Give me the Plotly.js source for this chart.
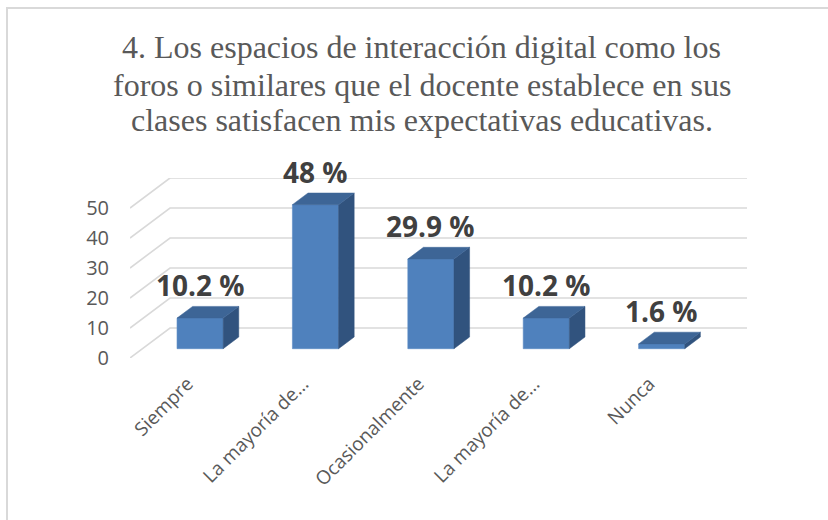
<!DOCTYPE html>
<html>
<head>
<meta charset="utf-8">
<script src="https://cdn.plot.ly/plotly-3.0.1.min.js"></script>
<style>
  html, body { margin: 0; padding: 0; background: #ffffff; }
  #wrap { position: relative; width: 828px; height: 520px; }
  #chart { position: absolute; left: 0; top: 0; width: 828px; height: 520px; }
  #frame { position: absolute; left: 6px; top: 7px; width: 840px; height: 540px;
           border: 2px solid #d9d9d9; pointer-events: none; box-sizing: border-box; }
</style>
</head>
<body>
<div id="wrap">
  <div id="chart"></div>
  <div id="frame"></div>
</div>
<script>
// ---- data ----
const categories = ['Siempre', 'La mayoría de…', 'Ocasionalmente', 'La mayoría de…', 'Nunca'];
const values = [10.2, 48, 29.9, 10.2, 1.6];
const valueLabels = ['10.2 %', '48 %', '29.9 %', '10.2 %', '1.6 %'];
const yTicks = [0, 10, 20, 30, 40, 50];
const titleLines = [
  '4. Los espacios de interacción digital como los',
  'foros o similares que el docente establece en sus',
  'clases satisfacen mis expectativas educativas.'
];

// ---- page geometry ----
const W = 828, H = 520;
const M = { l: 130, r: 81, t: 178, b: 162 };
const toPaperX = px => (px - M.l) / (W - M.l - M.r);
const toPaperY = py => (H - M.b - py) / (H - M.t - M.b);
const TITLE_CENTER_X = 421.5;
const TITLE_MID_Y = [47, 84.5, 120];

// ---- pseudo-3D geometry (in axis units) ----
const DEPTH_X = 0.3466;   // full wall depth, x units
const DEPTH_Y = 10;       // full wall depth, y units
const BAR_FRONT = 0.31;   // bar front plane, fraction of depth
const BAR_DEPTH = 0.39;   // bar depth, fraction of depth
const BAR_W = 0.4;

const FRONT = '#4F81BD', TOP = '#3D6596', SIDE = '#31537E', GRID = '#d9d9d9';
const traces = [];

// gridlines: left wall diagonal + back wall horizontal (drawn below the bars)
const x0 = -0.5, xEnd = categories.length - 0.5 + DEPTH_X;
const shapes = yTicks.map(v => ({
  type: 'path', xref: 'x', yref: 'y', layer: 'below',
  path: `M ${x0},${v} L ${x0 + DEPTH_X},${v + DEPTH_Y} L ${xEnd},${v + DEPTH_Y}`,
  line: { color: GRID, width: 1.6 }
}));

const fx = BAR_FRONT * DEPTH_X, fy = BAR_FRONT * DEPTH_Y;
const dx = BAR_DEPTH * DEPTH_X, dy = BAR_DEPTH * DEPTH_Y;
// front faces
traces.push({
  type: 'bar', showlegend: false, hoverinfo: 'skip',
  x: values.map((v, i) => i + fx), y: values, base: values.map(() => fy),
  width: BAR_W, marker: { color: FRONT, line: { color: '#5b8cc4', width: 0.6 } }
});
values.forEach((v, i) => {
  const l = i + fx - BAR_W / 2, r = i + fx + BAR_W / 2;
  // side face
  traces.push({
    type: 'scatter', mode: 'lines', fill: 'toself', hoverinfo: 'skip', showlegend: false,
    x: [r, r + dx, r + dx, r, r], y: [fy, fy + dy, fy + v + dy, fy + v, fy],
    fillcolor: SIDE, line: { color: SIDE, width: 0.5 }
  });
  // top face
  traces.push({
    type: 'scatter', mode: 'lines', fill: 'toself', hoverinfo: 'skip', showlegend: false,
    x: [l, r, r + dx, l + dx, l], y: [fy + v, fy + v, fy + v + dy, fy + v + dy, fy + v],
    fillcolor: TOP, line: { color: TOP, width: 0.5 }
  });
});

const annotations = values.map((v, i) => ({
  x: i + fx, y: fy + v + dy, xref: 'x', yref: 'y',
  text: valueLabels[i], showarrow: false, yanchor: 'bottom', yshift: 0,
  font: { family: 'Open Sans', size: 28, color: '#404040', weight: 'bold' }
}));
titleLines.forEach((t, k) => annotations.push({
  x: toPaperX(TITLE_CENTER_X), y: toPaperY(TITLE_MID_Y[k]), xref: 'paper', yref: 'paper',
  xanchor: 'center', yanchor: 'middle', text: t, showarrow: false,
  font: { family: 'Liberation Serif', size: 32, color: '#595959' }
}));

const layout = {
  width: W, height: H,
  margin: M,
  paper_bgcolor: 'rgba(0,0,0,0)', plot_bgcolor: 'rgba(0,0,0,0)',
  bargap: 0,
  xaxis: {
    range: [x0, xEnd], tickvals: categories.map((c, i) => i), ticktext: categories,
    tickangle: -45, showgrid: false, zeroline: false, showline: false, ticks: '',
    ticklabelstandoff: 10,
    tickfont: { family: 'Open Sans', size: 19, color: '#595959' }
  },
  yaxis: {
    range: [0, 60], tickvals: yTicks, showgrid: false, zeroline: false, showline: false,
    ticks: '', ticklabelstandoff: 20,
    tickfont: { family: 'Open Sans', size: 20, color: '#595959' }
  },
  shapes: shapes,
  annotations: annotations,
  showlegend: false
};

Plotly.newPlot('chart', traces, layout, { staticPlot: true, displayModeBar: false });
</script>
</body>
</html>
